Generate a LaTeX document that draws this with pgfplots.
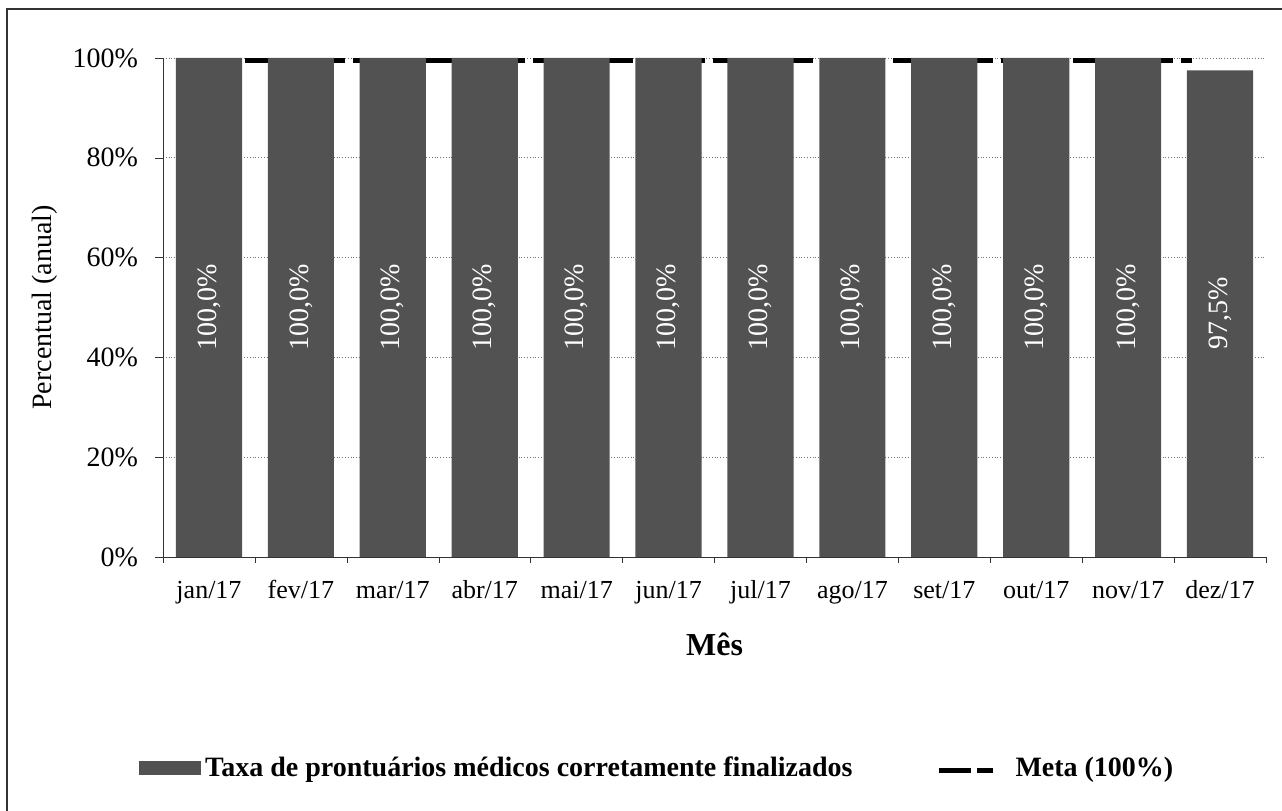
\documentclass[border=0pt]{standalone}
\usepackage{fontspec}
\setmainfont{Liberation Serif}
\usepackage{pgfplots}
\usepackage{pgfplotstable}
\pgfplotsset{compat=1.18}

\definecolor{barra}{gray}{0.32}

% taxa mensal de prontuarios (%)
\pgfplotstableread{
x v
0 100
1 100
2 100
3 100
4 100
5 100
6 100
7 100
8 100
9 100
10 100
11 97.5
}\taxa

\begin{document}
\begin{tikzpicture}
\begin{axis}[
    scale only axis,
    width=551.5pt, height=249.5pt,
    xmin=-0.5, xmax=11.5,
    ymin=0, ymax=100,
    clip=false,
    axis x line*=bottom, axis y line*=left,
    axis line style={black!80},
    xtick={0,...,11},
    xticklabels={jan/17,fev/17,mar/17,abr/17,mai/17,jun/17,jul/17,ago/17,set/17,out/17,nov/17,dez/17},
    major x tick style={draw=none},
    minor xtick={-0.5,0.5,...,11.5},
    minor tick length=3pt,
    ytick={0,20,...,100},
    yticklabel={\pgfmathprintnumber{\tick}\%},
    major tick length=4pt,
    tick align=outside,
    tick style={black!80},
    ymajorgrids,
    grid style={densely dotted, black!55},
    /pgf/number format/assume math mode=true,
    x tick label style={font=\fontsize{13}{15}\selectfont, text height=9pt, text depth=3pt, yshift=-4pt},
    y tick label style={font=\fontsize{14}{16}\selectfont, xshift=-5pt},
    ylabel={Percentual (anual)},
    ylabel style={at={(axis description cs:-0.107,0.5)}, anchor=center, font=\fontsize{14}{16}\selectfont},
    xlabel={Mês},
    xlabel style={at={(axis description cs:0.5,-0.176)}, anchor=center, font=\bfseries\fontsize{16}{18}\selectfont},
    legend columns=-1,
    reverse legend,
    legend style={at={(axis description cs:0.449,-0.423)}, anchor=center, draw=none,
        font=\bfseries\fontsize{14}{16}\selectfont,
        /tikz/every even column/.append style={column sep=40pt}},
]
% meta atras das barras
\addplot[black, line width=2.5pt, dash pattern=on 14pt off 4pt, yshift=-1.25pt,
    legend image code/.code={\draw[line width=2.5pt, dash pattern=on 16pt off 3pt on 8pt off 30pt] (0pt,0pt) -- (35pt,0pt);}]
    coordinates {(0,100) (10.7,100)};
\addlegendentry{Meta (100\%)}

\addplot[ybar, bar width=0.72, fill=barra, draw=none,
    legend image code/.code={\fill[barra] (0pt,-3.5pt) rectangle (31pt,3.5pt);}]
    table[x=x, y=v] {\taxa};
\addlegendentry{Taxa de prontuários médicos corretamente finalizados}

% rotulos no meio das barras
\addplot[draw=none, mark=none, forget plot,
    point meta=\thisrow{v},
    nodes near coords={\pgfmathprintnumber[fixed,fixed zerofill,precision=1,use comma]{\pgfplotspointmeta}\%},
    nodes near coords style={anchor=center, rotate=90, text=white, font=\fontsize{14}{16}\selectfont}]
    table[x=x, y expr=\thisrow{v}/2] {\taxa};

% moldura
\draw[black!80, line width=0.8pt] (axis description cs:-0.1414,-0.509) -- (axis description cs:-0.1414,1.0982) -- (axis description cs:1.0145,1.0982);
\coordinate (bbsw) at (axis description cs:-0.1478,-0.509);
\coordinate (bbne) at (axis description cs:1.0145,1.1162);
\end{axis}
\pgfresetboundingbox
\path (bbsw) rectangle (bbne);
\end{tikzpicture}
\end{document}
